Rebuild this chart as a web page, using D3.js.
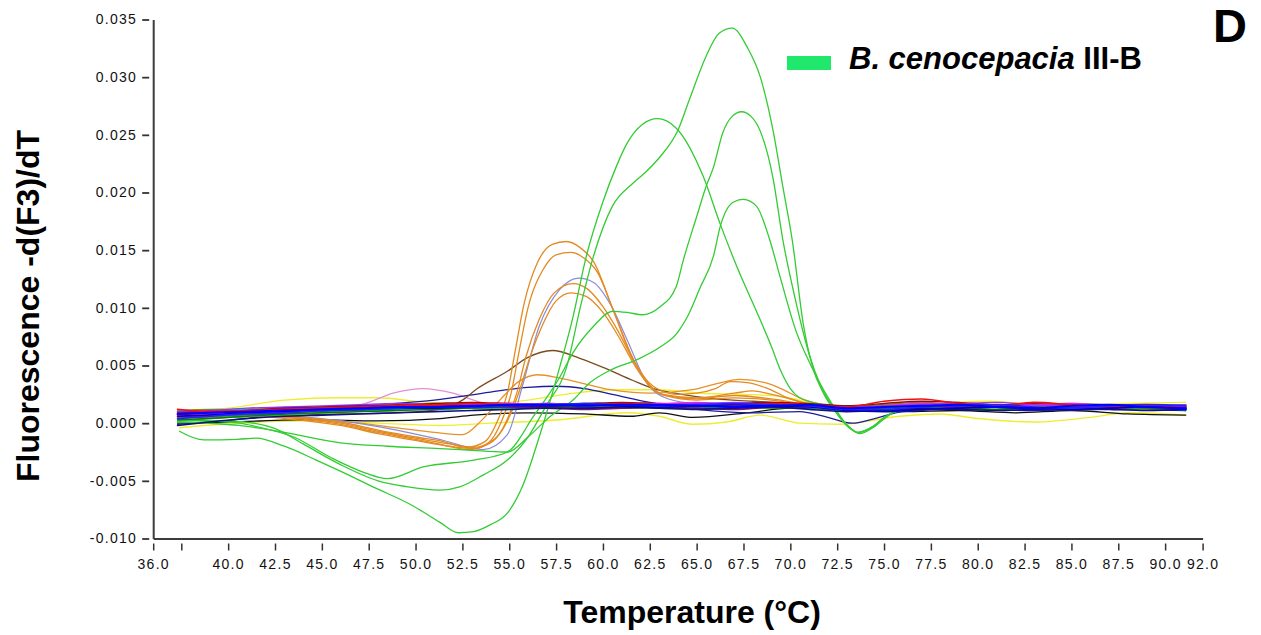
<!DOCTYPE html>
<html>
<head>
<meta charset="utf-8">
<script src="https://cdn.jsdelivr.net/npm/d3@7"></script>
<style>
  html, body { margin: 0; padding: 0; background: #fff; }
  svg { display: block; }
  text { font-family: "Liberation Sans", Arial, sans-serif; }
</style>
</head>
<body>
<svg id="chart" width="1261" height="635"></svg>
<script>
// ---------- axes ----------
const xTicks = [36, 37.5, 40, 42.5, 45, 47.5, 50, 52.5, 55, 57.5, 60, 62.5, 65, 67.5, 70, 72.5, 75, 77.5, 80, 82.5, 85, 87.5, 90, 92];
const xTickLabels = ["36.0", "", "40.0", "42.5", "45.0", "47.5", "50.0", "52.5", "55.0", "57.5", "60.0", "62.5", "65.0", "67.5", "70.0", "72.5", "75.0", "77.5", "80.0", "82.5", "85.0", "87.5", "90.0", "92.0"];
const yTicks = [-0.010, -0.005, 0.000, 0.005, 0.010, 0.015, 0.020, 0.025, 0.030, 0.035];
const yTickLabels = ["-0.010", "-0.005", "0.000", "0.005", "0.010", "0.015", "0.020", "0.025", "0.030", "0.035"];

// ---------- melt curves: [temperature °C, -d(F3)/dT] ----------
// B. cenocepacia III-B
const cenoA = [[37.3,0.0002],[40,0.0002],[42.4,-0.0004],[44,-0.0018],[46,-0.0036],[48,-0.0050],[49.5,-0.0055],[51.3,-0.0058],[52.4,-0.0055],[53.6,-0.0045],[54.9,-0.0032],[56.0,-0.0012],[57.0,0.0016],[58.07,0.0049],[58.8,0.0101],[59.5,0.0145],[60.5,0.0188],[61.6,0.0208],[62.3,0.0218],[63.05,0.0231],[64.0,0.0254],[64.6,0.0280],[65.5,0.0318],[66.2,0.0338],[66.9,0.03425],[67.7,0.0326],[68.4,0.0300],[69.1,0.0252],[69.6,0.0205],[70.1,0.0159],[70.7,0.0085],[71.2,0.0048],[71.8,0.0025],[72.4,0.0010],[73.0,-0.0002],[73.6,-0.0008],[74.4,-0.0003],[75.1,0.0006],[76,0.0012],[78,0.0017],[80,0.0014],[82,0.0016],[84,0.0013],[86,0.0015],[88,0.0013],[91.1,0.0014]];
const cenoB = [[37.3,0.0003],[40.6,0.0000],[41.5,-0.0003],[43.5,-0.0012],[45.5,-0.0030],[47.3,-0.0043],[48.5,-0.0048],[50.4,-0.0038],[53.1,-0.0032],[54.9,-0.0025],[56.3,0.0006],[57.7,0.0040],[58.4,0.0061],[59.5,0.0084],[60.5,0.0097],[61.3,0.0096],[62.1,0.0094],[63.05,0.0101],[63.9,0.0118],[64.3,0.0142],[65.0,0.0179],[65.5,0.0205],[65.9,0.0222],[66.4,0.0252],[66.9,0.0266],[67.4,0.0270],[67.9,0.0266],[68.4,0.0253],[69.07,0.0213],[69.6,0.0159],[70.3,0.0105],[71.0,0.0060],[71.6,0.0033],[72.3,0.0013],[73.2,-0.0004],[73.7,-0.0009],[74.4,-0.0004],[75.1,0.0005],[76,0.0013],[78,0.0015],[80,0.0017],[82,0.0014],[84,0.0016],[86,0.0013],[88,0.0015],[91.1,0.0013]];
const cenoC = [[37.3,0.0001],[40.6,-0.0002],[43,-0.0008],[46.0,-0.0017],[48.5,-0.0020],[51.3,-0.0022],[53.5,-0.0024],[54.9,-0.0025],[56.0,-0.0012],[57.2,0.0006],[58.4,0.0020],[59.3,0.0035],[60.4,0.0046],[61.8,0.0055],[63.05,0.0066],[64.0,0.0079],[64.5,0.0092],[65.2,0.0118],[65.9,0.0145],[66.25,0.0170],[66.6,0.0185],[67.0,0.0192],[67.5,0.0194],[68.2,0.0188],[68.9,0.0159],[69.45,0.0127],[70.3,0.0080],[71.1,0.0050],[71.8,0.0028],[72.5,0.0010],[73.1,-0.0003],[73.6,-0.0008],[74.4,-0.0003],[75.1,0.0006],[76,0.0011],[78,0.0014],[80,0.0015],[82,0.0013],[84,0.0015],[86,0.0016],[88,0.0014],[91.1,0.0015]];
const cenoD = [[37.4,-0.0007],[38.7,-0.00145],[40.5,-0.0014],[41.5,-0.0013],[43,-0.0020],[44.7,-0.0032],[46.3,-0.0044],[47.7,-0.0055],[49.9,-0.0072],[51.3,-0.0086],[52.3,-0.0095],[53.1,-0.0094],[54.0,-0.0088],[54.9,-0.0078],[55.7,-0.0055],[56.6,-0.0012],[57.7,0.0049],[58.4,0.0092],[59.1,0.0144],[60.0,0.0192],[60.7,0.0222],[61.3,0.0243],[62.1,0.0259],[62.9,0.0264],[63.9,0.0256],[65.35,0.0214],[66.25,0.0173],[67.14,0.0136],[68.38,0.0090],[69.0,0.0066],[69.5,0.0045],[70.0,0.0030],[70.5,0.0022],[71.5,0.0017],[73,0.0014],[75,0.0016],[77,0.0013],[79,0.0016],[82,0.0014],[85,0.0015],[88,0.0013],[91.1,0.0014]];

// other species with a peak near 58 °C
const orange1 = [[37.3,0.0009],[40,0.0008],[43,0.0006],[46,0.0001],[48,-0.0006],[50,-0.0012],[51.5,-0.0016],[52.7,-0.0021],[53.7,-0.0016],[54.4,0.0003],[54.9,0.0026],[55.3,0.0061],[55.8,0.0104],[56.5,0.0139],[57.3,0.0155],[58.05,0.01575],[58.8,0.0152],[59.5,0.0140],[60.5,0.0100],[61.5,0.0059],[62.3,0.0038],[63,0.0029],[64,0.0025],[65,0.0026],[66,0.0030],[66.8,0.0036],[67.8,0.0035],[68.8,0.0030],[70,0.0021],[71,0.0016],[73,0.0011],[75,0.0014],[78,0.0016],[81,0.0015],[85,0.0016],[88,0.0014],[91.1,0.0015]];
const orange2 = [[37.3,0.0011],[40,0.0009],[43,0.0005],[46,-0.0001],[48,-0.0008],[50,-0.0014],[51.5,-0.0019],[52.9,-0.0023],[53.9,-0.0017],[54.6,0.0002],[55.1,0.0026],[55.5,0.0060],[56.0,0.0100],[56.8,0.0133],[57.5,0.0146],[58.3,0.0148],[59.0,0.0143],[59.7,0.0131],[60.6,0.0096],[61.6,0.0056],[62.4,0.0034],[63.2,0.0025],[65,0.0022],[67,0.0026],[68,0.0028],[69,0.0025],[71,0.0017],[73,0.0012],[76,0.0015],[80,0.0014],[84,0.0016],[88,0.0015],[91.1,0.0014]];
const orange3 = [[37.3,0.0008],[40,0.0008],[43,0.0004],[46,-0.0002],[48,-0.0009],[50,-0.0015],[51.8,-0.0020],[53.0,-0.0022],[54.1,-0.0016],[54.8,0.0000],[55.4,0.0026],[55.9,0.0058],[56.6,0.0090],[57.4,0.0113],[58.4,0.0121],[59.2,0.0116],[60.0,0.0101],[60.8,0.0080],[61.7,0.0052],[62.5,0.0033],[63.3,0.0024],[65,0.0020],[67,0.0022],[69,0.0020],[71,0.0015],[73,0.0012],[76,0.0014],[80,0.0016],[84,0.0014],[88,0.0015],[91.1,0.0013]];
const orange4 = [[37.3,0.0010],[40,0.0009],[43,0.0006],[46,0.0000],[48,-0.0007],[50,-0.0013],[51.8,-0.0018],[53.1,-0.0021],[54.2,-0.0014],[54.9,0.0002],[55.5,0.0026],[56.1,0.0057],[56.8,0.0086],[57.5,0.0106],[58.3,0.0113],[59.1,0.0110],[60.0,0.0096],[60.8,0.0076],[61.7,0.0050],[62.5,0.0032],[63.3,0.0024],[65,0.0021],[67,0.0024],[69,0.0021],[71,0.0016],[73,0.0013],[76,0.0016],[80,0.0015],[84,0.0013],[88,0.0014],[91.1,0.0014]];
const orangeLow = [[37.3,0.0007],[42,0.0006],[46,0.0002],[49,-0.0004],[51,-0.0008],[52.5,-0.0010],[53.5,0.0002],[54.5,0.0020],[55.5,0.0036],[56.5,0.0042],[57.7,0.0039],[58.8,0.0035],[60.4,0.0029],[62.5,0.0026],[64.8,0.0029],[66.25,0.0035],[67.3,0.0038],[68.7,0.0035],[69.5,0.0030],[70.5,0.0022],[72,0.0015],[74,0.0012],[77,0.0015],[81,0.0014],[85,0.0015],[91.1,0.0013]];
const lavender = [[37.3,0.0006],[42,0.0007],[46,0.0002],[49,-0.0006],[51.5,-0.0015],[53.6,-0.0023],[54.9,-0.0010],[55.7,0.0032],[56.6,0.0084],[57.7,0.0116],[58.7,0.01257],[59.5,0.0122],[60.4,0.0103],[61.3,0.0072],[62.3,0.0036],[63.5,0.0021],[65,0.0017],[68,0.0016],[72,0.0012],[76,0.0015],[80,0.0014],[85,0.0015],[91.1,0.0013]];
const brown = [[37.3,0.0005],[42,0.0006],[46,0.0008],[49,0.0009],[51.3,0.0012],[52.5,0.0020],[53.3,0.0030],[54.9,0.0045],[56.0,0.0057],[57.3,0.0063],[58.8,0.0056],[60.2,0.0047],[61.6,0.0037],[62.9,0.0029],[64.2,0.0025],[66,0.0021],[68,0.0019],[70,0.0017],[72,0.0013],[74,0.0012],[77,0.0016],[80,0.0015],[84,0.0014],[88,0.0015],[91.1,0.0013]];
const navyBump = [[37.3,-0.0001],[41,0.0004],[45,0.0012],[48,0.0016],[51,0.0020],[54,0.0027],[56,0.0031],[57.5,0.0032],[59,0.0030],[60.5,0.0025],[62.5,0.0018],[65,0.0012],[68,0.0009],[70.5,0.0010],[72,0.0005],[73.3,0.0000],[74.5,0.0004],[76,0.0010],[79,0.0012],[83,0.0011],[87,0.0012],[91.1,0.0011]];
const pink = [[37.3,0.0008],[42,0.0010],[45,0.0012],[47.3,0.0017],[48.8,0.0026],[50.4,0.0030],[52.0,0.0026],[53.5,0.0018],[55,0.0015],[58,0.0015],[61,0.0016],[65,0.0015],[69,0.0016],[73,0.0012],[76,0.0016],[80,0.0014],[85,0.0016],[91.1,0.0014]];
const yellowHigh = [[37.3,0.0010],[40,0.0013],[43,0.0020],[46,0.0022],[48,0.0022],[50,0.0019],[53,0.0016],[56,0.0020],[58,0.0025],[60.6,0.0029],[63,0.0029],[65.2,0.0026],[67.5,0.0025],[69.6,0.0023],[72,0.0015],[75,0.0014],[78,0.0017],[80.6,0.0019],[84,0.0015],[88,0.0017],[91.1,0.0018]];
const yellowLow = [[37.4,-0.0004],[39.7,-0.0001],[44,0.0002],[48,0.0000],[51.3,-0.0002],[54,0.0000],[57.7,0.0003],[61.3,0.0009],[63,0.0006],[64.8,-0.0001],[66.6,0.0001],[68.4,0.0007],[70.5,0.0000],[72.6,-0.0001],[75.85,0.0006],[78,0.0008],[80,0.0004],[83,0.0001],[86,0.0005],[88,0.0009],[91.1,0.0007]];
const blackLine = [[37.3,0.0000],[40,0.0001],[44.5,0.0003],[48,0.0002],[51.3,0.0004],[53.1,0.0007],[56,0.0009],[59,0.0008],[61.5,0.0006],[63,0.0009],[64.8,0.0005],[67.7,0.0009],[70,0.0013],[73,0.0012],[76,0.0010],[79,0.0011],[82,0.0009],[85,0.0011],[88,0.0008],[91.1,0.0007]];

// remaining isolates: flat traces on a shared temperature grid
const baseTemps = [37.3,39,41,43,45,47,49,51,53,55,57,59,61,63,65,67,69,71,73,75,77,79,81,83,85,87,89,91.1];
const baseRed     = [0.0012,0.0010,0.0011,0.0012,0.0013,0.0014,0.0015,0.0016,0.0017,0.0016,0.0015,0.0016,0.0017,0.0016,0.0015,0.0016,0.0017,0.0016,0.0014,0.0019,0.0021,0.0017,0.0015,0.0018,0.0016,0.0014,0.0015,0.0013];
const baseBlue    = [0.0008,0.0009,0.0010,0.0011,0.0012,0.0013,0.0014,0.0014,0.0015,0.0016,0.0016,0.0015,0.0016,0.0016,0.0015,0.0014,0.0015,0.0016,0.0013,0.0014,0.0015,0.0016,0.0014,0.0013,0.0015,0.0016,0.0014,0.0013];
const baseNavy    = [-0.0002,0.0001,0.0004,0.0006,0.0007,0.0008,0.0009,0.0010,0.0011,0.0012,0.0013,0.0013,0.0014,0.0013,0.0012,0.0013,0.0014,0.0012,0.0010,0.0011,0.0013,0.0012,0.0011,0.0012,0.0013,0.0012,0.0011,0.0012];
const basePurple  = [0.0009,0.0010,0.0011,0.0013,0.0014,0.0015,0.0015,0.0016,0.0015,0.0014,0.0013,0.0012,0.0013,0.0014,0.0013,0.0012,0.0014,0.0015,0.0013,0.0011,0.0012,0.0014,0.0015,0.0013,0.0012,0.0013,0.0014,0.0012];
const baseMagenta = [0.0006,0.0008,0.0009,0.0010,0.0012,0.0013,0.0014,0.0015,0.0016,0.0017,0.0016,0.0015,0.0016,0.0017,0.0018,0.0016,0.0015,0.0014,0.0013,0.0015,0.0017,0.0016,0.0014,0.0016,0.0017,0.0015,0.0014,0.0015];
const baseGreen   = [0.0003,0.0004,0.0006,0.0008,0.0009,0.0010,0.0011,0.0012,0.0013,0.0014,0.0015,0.0014,0.0013,0.0014,0.0015,0.0014,0.0013,0.0014,0.0012,0.0013,0.0015,0.0014,0.0012,0.0013,0.0014,0.0015,0.0013,0.0014];
const baseTeal    = [0.0005,0.0006,0.0007,0.0009,0.0010,0.0011,0.0012,0.0013,0.0013,0.0014,0.0014,0.0015,0.0015,0.0014,0.0013,0.0014,0.0015,0.0013,0.0011,0.0012,0.0014,0.0013,0.0012,0.0014,0.0013,0.0012,0.0013,0.0011];
const baseCyan    = [0.0010,0.0011,0.0012,0.0013,0.0013,0.0014,0.0015,0.0015,0.0016,0.0015,0.0014,0.0015,0.0016,0.0015,0.0014,0.0015,0.0016,0.0015,0.0013,0.0014,0.0016,0.0015,0.0014,0.0015,0.0016,0.0014,0.0015,0.0016];
const baseMaroon  = [0.0007,0.0008,0.0010,0.0011,0.0013,0.0014,0.0016,0.0017,0.0018,0.0017,0.0016,0.0017,0.0018,0.0017,0.0016,0.0017,0.0018,0.0017,0.0015,0.0017,0.0019,0.0018,0.0016,0.0017,0.0016,0.0015,0.0016,0.0014];
const baseBlue2   = [0.0004,0.0006,0.0008,0.0009,0.0011,0.0012,0.0013,0.0014,0.0014,0.0015,0.0016,0.0017,0.0016,0.0015,0.0016,0.0017,0.0016,0.0015,0.0012,0.0012,0.0014,0.0015,0.0016,0.0014,0.0013,0.0015,0.0016,0.0015];
const baseOlive   = [0.0011,0.0012,0.0012,0.0013,0.0014,0.0015,0.0016,0.0017,0.0016,0.0015,0.0016,0.0017,0.0016,0.0015,0.0014,0.0015,0.0016,0.0015,0.0014,0.0016,0.0018,0.0016,0.0015,0.0016,0.0017,0.0016,0.0015,0.0016];
const baseGray    = [0.0008,0.0009,0.0010,0.0011,0.0012,0.0012,0.0013,0.0014,0.0015,0.0014,0.0014,0.0015,0.0014,0.0013,0.0014,0.0015,0.0014,0.0013,0.0012,0.0013,0.0014,0.0013,0.0012,0.0013,0.0014,0.0013,0.0012,0.0013];
const baseViolet  = [0.0010,0.0011,0.0013,0.0014,0.0015,0.0016,0.0017,0.0016,0.0015,0.0016,0.0017,0.0016,0.0015,0.0016,0.0017,0.0018,0.0016,0.0015,0.0014,0.0015,0.0016,0.0017,0.0018,0.0016,0.0015,0.0014,0.0015,0.0016];
const baseDarkBlue= [0.0006,0.0007,0.0009,0.0010,0.0011,0.0012,0.0013,0.0013,0.0014,0.0015,0.0015,0.0016,0.0015,0.0014,0.0015,0.0016,0.0015,0.0014,0.0011,0.0010,0.0012,0.0013,0.0014,0.0013,0.0012,0.0013,0.0014,0.0012];
const baseLime    = [0.0002,0.0004,0.0006,0.0007,0.0009,0.0010,0.0011,0.0012,0.0013,0.0013,0.0014,0.0014,0.0015,0.0014,0.0013,0.0014,0.0015,0.0014,0.0012,0.0013,0.0014,0.0013,0.0014,0.0015,0.0013,0.0012,0.0013,0.0014];
const baseRust    = [0.0005,0.0006,0.0008,0.0009,0.0011,0.0012,0.0014,0.0015,0.0016,0.0016,0.0017,0.0016,0.0015,0.0016,0.0017,0.0016,0.0015,0.0014,0.0013,0.0014,0.0016,0.0017,0.0015,0.0014,0.0015,0.0016,0.0015,0.0014];

// ---------- scales ----------
const svg = d3.select("#chart");
const x = d3.scaleLinear().domain([36, 92]).range([153.2, 1202.6]);
const y = d3.scaleLinear().domain([-0.010, 0.035]).range([538.5, 19.5]);

const line = d3.line()
  .x(d => x(d[0]))
  .y(d => y(d[1]))
  .curve(d3.curveMonotoneX);

const zipBase = vals => baseTemps.map((t, i) => [t, vals[i]]);

// drawing order: back to front
const traces = [
  { pts: yellowLow,  color: "#eeee30", w: 1.4 },
  { pts: yellowHigh, color: "#eeee30", w: 1.4 },
  { pts: blackLine,  color: "#111111", w: 1.3 },
  { pts: pink,       color: "#e68fd0", w: 1.2 },
  { pts: navyBump,   color: "#1c1c9c", w: 1.3 },
  { pts: brown,      color: "#7b4a1f", w: 1.3 },
  { pts: orangeLow,  color: "#e6912a", w: 1.3 },
  { pts: lavender,   color: "#8b8bd6", w: 1.2 },
  { pts: orange4,    color: "#e38a22", w: 1.3 },
  { pts: orange3,    color: "#e38a22", w: 1.3 },
  { pts: orange2,    color: "#e38a22", w: 1.3 },
  { pts: orange1,    color: "#e38a22", w: 1.3 },
  { pts: cenoC,      color: "#33cc33", w: 1.3 },
  { pts: cenoB,      color: "#33cc33", w: 1.3 },
  { pts: cenoA,      color: "#33cc33", w: 1.3 },
  { pts: cenoD,      color: "#33cc33", w: 1.3 },
  { pts: zipBase(baseOlive),    color: "#8a8a10", w: 1.4 },
  { pts: zipBase(baseGray),     color: "#7a7a7a", w: 1.4 },
  { pts: zipBase(baseCyan),     color: "#10c0c0", w: 1.4 },
  { pts: zipBase(baseTeal),     color: "#108080", w: 1.4 },
  { pts: zipBase(baseLime),     color: "#22cc22", w: 1.4 },
  { pts: zipBase(baseGreen),    color: "#0a7a0a", w: 1.4 },
  { pts: zipBase(baseRust),     color: "#b05a20", w: 1.4 },
  { pts: zipBase(baseMaroon),   color: "#8a1010", w: 1.5 },
  { pts: zipBase(baseMagenta),  color: "#ee22ee", w: 1.4 },
  { pts: zipBase(baseViolet),   color: "#9933ee", w: 1.4 },
  { pts: zipBase(basePurple),   color: "#7a107a", w: 1.6 },
  { pts: zipBase(baseRed),      color: "#ee1111", w: 1.6 },
  { pts: zipBase(baseNavy),     color: "#101080", w: 1.6 },
  { pts: zipBase(baseDarkBlue), color: "#0000bb", w: 1.7 },
  { pts: zipBase(baseBlue2),    color: "#2222ff", w: 1.7 },
  { pts: zipBase(baseBlue),     color: "#0000ff", w: 2.0 }
];

svg.append("g").attr("class", "traces")
  .selectAll("path")
  .data(traces)
  .join("path")
  .attr("d", d => line(d.pts))
  .attr("fill", "none")
  .attr("stroke", d => d.color)
  .attr("stroke-width", d => d.w)
  .attr("stroke-linejoin", "round")
  .attr("stroke-linecap", "round");

// ---------- y axis ----------
const gy = svg.append("g")
  .attr("transform", `translate(${x(36)},0)`)
  .call(d3.axisLeft(y)
    .tickValues(yTicks)
    .tickFormat((d, i) => yTickLabels[i])
    .tickSizeInner(11)
    .tickSizeOuter(0)
    .tickPadding(5));
gy.select(".domain").attr("stroke", "#3c3c3c").attr("stroke-width", 2);
gy.selectAll(".tick line").attr("x1", -4).attr("x2", -11).attr("stroke", "#333").attr("stroke-width", 1.8);
gy.selectAll(".tick text")
  .attr("font-family", "'Liberation Sans', Arial, sans-serif")
  .attr("font-size", 14)
  .attr("letter-spacing", "1.3px")
  .attr("fill", "#111");

// ---------- x axis ----------
const gx = svg.append("g")
  .attr("transform", `translate(0,${y(-0.010)})`)
  .call(d3.axisBottom(x)
    .tickValues(xTicks)
    .tickFormat((d, i) => xTickLabels[i])
    .tickSizeInner(11)
    .tickSizeOuter(0)
    .tickPadding(10));
gx.select(".domain").attr("stroke", "#3c3c3c").attr("stroke-width", 2);
gx.selectAll(".tick line").attr("y1", 5).attr("y2", 12).attr("stroke", "#333").attr("stroke-width", 1.5);
gx.selectAll(".tick text")
  .attr("font-family", "'Liberation Sans', Arial, sans-serif")
  .attr("font-size", 14)
  .attr("letter-spacing", "1.3px")
  .attr("fill", "#111");

// ---------- titles ----------
svg.append("text")
  .attr("transform", "translate(39,306) rotate(-90)")
  .attr("text-anchor", "middle")
  .attr("font-size", 32)
  .attr("font-weight", "bold")
  .attr("fill", "#000")
  .text("Fluorescence -d(F3)/dT");

svg.append("text")
  .attr("x", 692)
  .attr("y", 623)
  .attr("text-anchor", "middle")
  .attr("font-size", 32)
  .attr("font-weight", "bold")
  .attr("fill", "#000")
  .text("Temperature (°C)");

// ---------- legend ----------
svg.append("rect")
  .attr("x", 787).attr("y", 56)
  .attr("width", 44).attr("height", 14)
  .attr("fill", "#20e86c");

const leg = svg.append("text")
  .attr("x", 849).attr("y", 69)
  .attr("font-size", 31)
  .attr("font-weight", "bold")
  .attr("fill", "#000");
leg.append("tspan").attr("font-style", "italic").text("B. cenocepacia");
leg.append("tspan").text(" III-B");

// panel letter
svg.append("text")
  .attr("x", 1213).attr("y", 42)
  .attr("font-size", 47)
  .attr("font-weight", "bold")
  .attr("fill", "#000")
  .text("D");
</script>
</body>
</html>
